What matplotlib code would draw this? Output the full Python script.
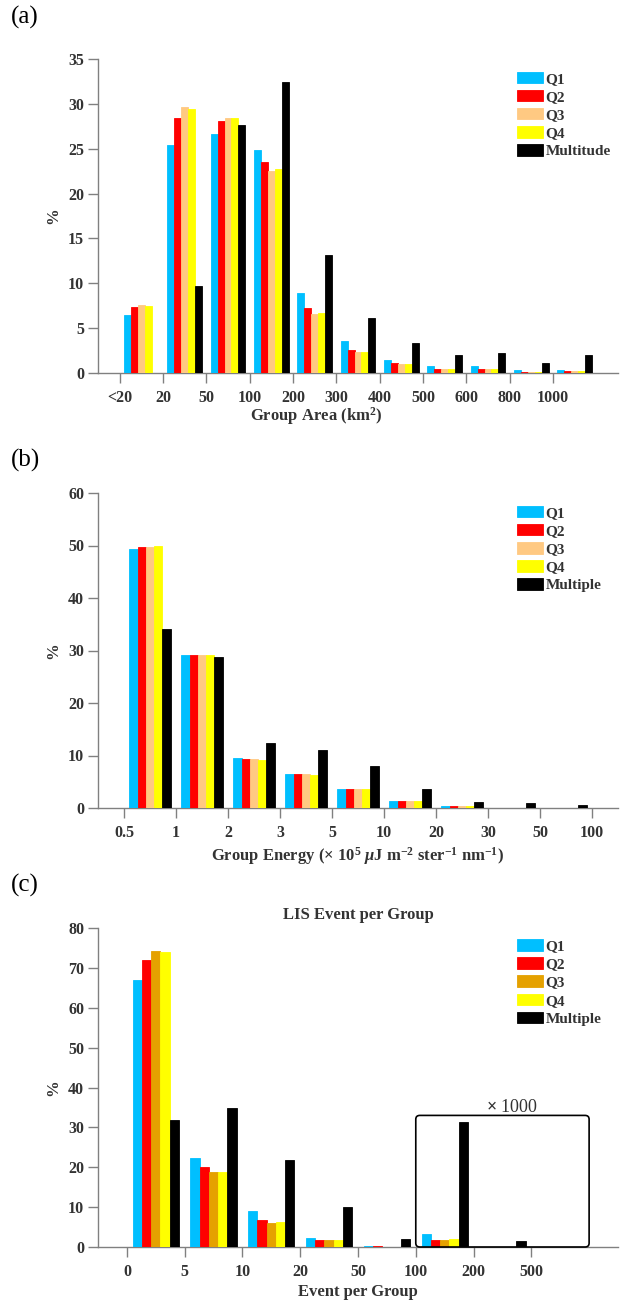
import matplotlib.pyplot as plt
import numpy as np
from matplotlib.patches import FancyBboxPatch

plt.rcParams['font.family'] = ['Liberation Serif', 'DejaVu Serif']
plt.rcParams['mathtext.fontset'] = 'custom'
plt.rcParams['mathtext.rm'] = 'Liberation Serif:bold'
plt.rcParams['mathtext.it'] = 'Liberation Serif:italic:bold'
plt.rcParams['mathtext.bf'] = 'Liberation Serif:bold'

names_a = ['Q1', 'Q2', 'Q3', 'Q4', 'Multitude']
names_bc = ['Q1', 'Q2', 'Q3', 'Q4', 'Multiple']
colors_ab = ['#00BFFF', '#FF0000', '#FFC982', '#FFFF00', '#000000']
colors_c = ['#00BFFF', '#FF0000', '#E5A100', '#FFFF00', '#000000']

# (a) group area
area_ticks = ['<20', '20', '50', '100', '200', '300', '400', '500', '600', '800', '1000']
area_q1 = [6.5, 25.4, 26.6, 24.9, 8.9, 3.6, 1.5, 0.8, 0.75, 0.33, 0.37]
area_q2 = [7.4, 28.4, 28.1, 23.5, 7.2, 2.6, 1.1, 0.5, 0.5, 0.15, 0.26]
area_q3 = [7.6, 29.7, 28.4, 22.5, 6.6, 2.3, 1.0, 0.45, 0.45, 0.1, 0.22]
area_q4 = [7.5, 29.4, 28.4, 22.7, 6.7, 2.3, 1.0, 0.45, 0.45, 0.1, 0.22]
area_multi = [0.0, 9.7, 27.6, 32.4, 13.2, 6.1, 3.3, 2.0, 2.2, 1.1, 2.0]

# (b) group energy
energy_ticks = ['0.5', '1', '2', '3', '5', '10', '20', '30', '50', '100']
energy_q1 = [49.4, 29.2, 9.5, 6.5, 3.7, 1.3, 0.35, 0.08, 0.03]
energy_q2 = [49.8, 29.2, 9.3, 6.4, 3.7, 1.3, 0.35, 0.08, 0.03]
energy_q3 = [49.7, 29.1, 9.3, 6.5, 3.7, 1.25, 0.3, 0.07, 0.03]
energy_q4 = [50.0, 29.2, 9.2, 6.35, 3.55, 1.25, 0.3, 0.07, 0.03]
energy_multi = [34.1, 28.8, 12.4, 11.05, 8.0, 3.55, 1.2, 0.95, 0.57]

# (c) events per group (100-200 and 200-500 groups scaled x1000)
event_ticks = ['0', '5', '10', '20', '50', '100', '200', '500']
event_q1 = [66.9, 22.4, 9.0, 2.3, 0.2, 3.2, 0.05, 0.0]
event_q2 = [72.1, 20.0, 6.7, 1.7, 0.15, 1.8, 0.03, 0.0]
event_q3 = [74.2, 18.7, 6.1, 1.7, 0.12, 1.8, 0.02, 0.0]
event_q4 = [74.0, 18.8, 6.3, 1.7, 0.12, 2.0, 0.02, 0.0]
event_multi = [31.8, 34.8, 21.9, 10.0, 2.0, 31.3, 1.6, 0.0]

W, H = 624, 1303
spine_col = '#808080'
text_col = '#333333'


def draw_panel(ax, ticks, series, colors, names, ymax, ystep, xlab, xlab_x, xlab_y, leg_y):
    n = len(series[0])
    x = np.arange(n) + 0.5
    w = 0.16
    for i, (vals, c, name) in enumerate(zip(series, colors, names)):
        ax.bar(x + (i - 2) * w, vals, width=w, color=c, edgecolor=c,
               linewidth=0.6, label=name, zorder=3)
    ax.set_xlim(-0.5, n + 0.5)
    ax.set_ylim(0, ymax)
    ax.set_xticks(np.arange(len(ticks)))
    ax.set_xticklabels(ticks)
    ax.set_yticks(np.arange(0, ymax + 1, ystep))
    for s in ['top', 'right']:
        ax.spines[s].set_visible(False)
    for s in ['left', 'bottom']:
        ax.spines[s].set_color(spine_col)
        ax.spines[s].set_linewidth(1.0)
    ax.tick_params(direction='out', length=7, width=1, color=spine_col,
                   labelcolor=text_col, labelsize=11.5)
    ax.tick_params(axis='x', pad=5)
    ax.tick_params(axis='y', pad=3)
    for lab in ax.get_xticklabels() + ax.get_yticklabels():
        lab.set_fontweight('bold')
    ax.set_xlabel(xlab, fontsize=12, fontweight='bold', color=text_col)
    ax.xaxis.label.set_va('center')
    ax.xaxis.set_label_coords(xlab_x, xlab_y)
    ax.set_ylabel('%', fontsize=12, fontweight='bold', color=text_col)
    ax.yaxis.label.set_va('center')
    ax.yaxis.set_label_coords(-0.087, 0.5)
    leg = ax.legend(loc='upper left', bbox_to_anchor=(0.805, leg_y), frameon=False,
                    handlelength=1.7, handleheight=0.8,
                    handletextpad=0.2, labelspacing=0.26, borderpad=0,
                    borderaxespad=0, prop={'weight': 'bold', 'size': 11})
    for t in leg.get_texts():
        t.set_color(text_col)


fig = plt.figure(figsize=(W / 100, H / 100), dpi=100)

ax_a = fig.add_axes([98 / W, 1 - 373 / H, 520 / W, 314 / H])
draw_panel(ax_a, area_ticks, [area_q1, area_q2, area_q3, area_q4, area_multi],
           colors_ab, names_a, 35, 5, 'Group Area (km$^{2}$)', 0.42, -0.137, 0.96)

ax_b = fig.add_axes([98 / W, 1 - 808 / H, 520 / W, 315 / H])
draw_panel(ax_b, energy_ticks, [energy_q1, energy_q2, energy_q3, energy_q4, energy_multi],
           colors_ab, names_bc, 60, 10,
           r'Group Energy ($\times$ 10$^{5}$ $\mu$J m$^{-2}$ ster$^{-1}$ nm$^{-1}$)',
           0.5, -0.152, 0.96)

ax_c = fig.add_axes([98 / W, 1 - 1247 / H, 520 / W, 319 / H])
draw_panel(ax_c, event_ticks, [event_q1, event_q2, event_q3, event_q4, event_multi],
           colors_c, names_bc, 80, 10, 'Event per Group', 0.5, -0.141, 0.965)
ax_c.text(0.5, 1.041, 'LIS Event per Group', transform=ax_c.transAxes, ha='center',
          va='center', fontsize=12, fontweight='bold', color=text_col)

# x1000 inset frame around the last three groups
box = FancyBboxPatch((5.0, 0), 3.0, 33, boxstyle='round,pad=0,rounding_size=0.07',
                     mutation_aspect=14, fill=False, edgecolor='black', linewidth=1.2,
                     zorder=4, clip_on=False)
ax_c.add_patch(box)
ax_c.text(6.66, 34.9, r'$\times$ 1000', ha='center', va='center', fontsize=13,
          color=text_col)

for label, y in [('(a)', 17), ('(b)', 460), ('(c)', 885)]:
    fig.text(11 / W, 1 - y / H, label, fontsize=18, ha='left', va='center', color='black')

fig.savefig('out.png', dpi=100)
